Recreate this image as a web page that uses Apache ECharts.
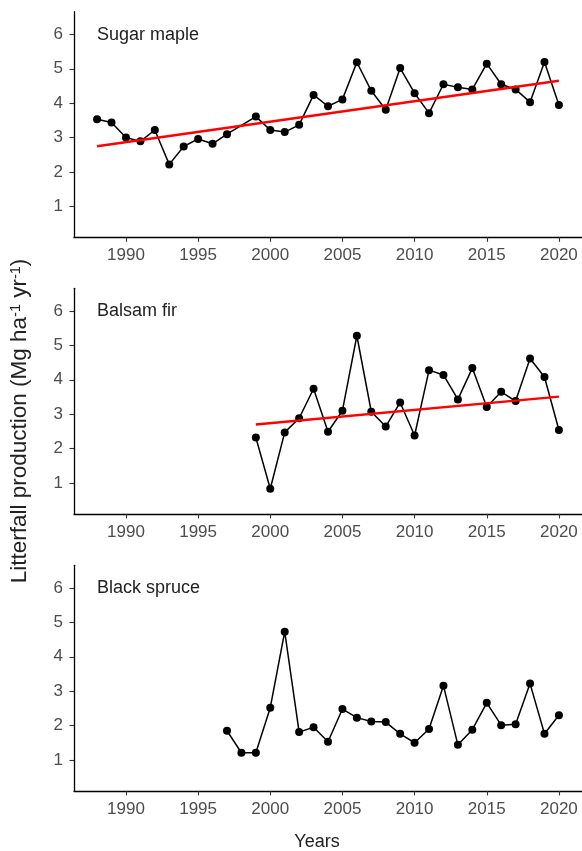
<!DOCTYPE html>
<html>
<head>
<meta charset="utf-8">
<script src="https://cdn.jsdelivr.net/npm/echarts@6/dist/echarts.min.js"></script>
<style>
html,body{margin:0;padding:0;background:#fff;}
#chart{width:582px;height:851px;}
</style>
</head>
<body>
<div id="chart"></div>
<script>
// ---- data ----
const xTicks = [1990, 1995, 2000, 2005, 2010, 2015, 2020];
const yTicks = [1, 2, 3, 4, 5, 6];
const panelNames = ['Sugar maple', 'Balsam fir', 'Black spruce'];

const mapleYears = [1988,1989,1990,1991,1992,1993,1994,1995,1996,1997,1999,2000,2001,2002,2003,2004,2005,2006,2007,2008,2009,2010,2011,2012,2013,2014,2015,2016,2017,2018,2019,2020];
const mapleValues = [3.53,3.44,3.00,2.89,3.22,2.22,2.74,2.96,2.82,3.10,3.61,3.22,3.16,3.37,4.24,3.91,4.11,5.19,4.36,3.81,5.02,4.29,3.71,4.55,4.46,4.40,5.15,4.55,4.40,4.03,5.20,3.95];
const mapleTrendYears = [1988, 2020];
const mapleTrendValues = [2.75, 4.65];

const firYears = [1999,2000,2001,2002,2003,2004,2005,2006,2007,2008,2009,2010,2011,2012,2013,2014,2015,2016,2017,2018,2019,2020];
const firValues = [2.32,0.83,2.47,2.88,3.74,2.49,3.10,5.28,3.07,2.64,3.34,2.38,4.28,4.14,3.43,4.34,3.21,3.65,3.38,4.62,4.08,2.54];
const firTrendYears = [1999, 2020];
const firTrendValues = [2.70, 3.51];

const spruceYears = [1997,1998,1999,2000,2001,2002,2003,2004,2005,2006,2007,2008,2009,2010,2011,2012,2013,2014,2015,2016,2017,2018,2019,2020];
const spruceValues = [1.85,1.21,1.21,2.52,4.73,1.81,1.95,1.53,2.48,2.23,2.12,2.10,1.76,1.50,1.90,3.16,1.44,1.88,2.66,2.01,2.04,3.22,1.76,2.30];

// ---- helpers ----
const pairs = (xs, ys) => xs.map((x, i) => [x, ys[i]]);
const FONT = 'Liberation Sans, Arial, sans-serif';
const grids = [
  {left: 74, width: 510, top: 11.7, height: 225.6},
  {left: 74, width: 510, top: 288.3, height: 225.6},
  {left: 74, width: 510, top: 565.3, height: 225.6}
];
const xAxes = grids.map((g, i) => ({
  type: 'value', gridIndex: i, min: 1986.4, max: 2021.6,
  axisLine: {show: true, lineStyle: {color: '#000', width: 1.3}},
  axisTick: {show: true, length: 4.5, customValues: xTicks, lineStyle: {color: '#333', width: 1.1}},
  axisLabel: {customValues: xTicks, margin: 10, color: '#4d4d4d', fontSize: 17, fontFamily: FONT,
    formatter: v => String(Math.round(v))},
  splitLine: {show: false}
}));
const yAxes = grids.map((g, i) => ({
  type: 'value', gridIndex: i, min: 0.1, max: 6.66,
  axisLine: {show: true, lineStyle: {color: '#000', width: 1.3}},
  axisTick: {show: true, length: 4.5, customValues: yTicks, lineStyle: {color: '#333', width: 1.1}},
  axisLabel: {customValues: yTicks, margin: 11, color: '#4d4d4d', fontSize: 17, fontFamily: FONT,
    formatter: v => String(Math.round(v))},
  splitLine: {show: false}
}));
function dataSeries(i, xs, ys) {
  return {type: 'line', xAxisIndex: i, yAxisIndex: i, data: pairs(xs, ys),
    symbol: 'circle', symbolSize: 8, showSymbol: true,
    itemStyle: {color: '#000'}, lineStyle: {color: '#000', width: 1.5},
    animation: false, z: 3};
}
function trendSeries(i, xs, ys) {
  return {type: 'line', xAxisIndex: i, yAxisIndex: i, data: pairs(xs, ys),
    symbol: 'none', lineStyle: {color: '#ff0000', width: 2.5}, animation: false, z: 4};
}
const labelYs = [35, 311.5, 588.5];
const graphics = panelNames.map((n, i) => ({
  type: 'text', x: 97, y: labelYs[i],
  style: {text: n, fill: '#222', font: '18px ' + FONT, textAlign: 'left', textVerticalAlign: 'middle'}
}));
graphics.push({
  type: 'text', x: 317, y: 842,
  style: {text: 'Years', fill: '#222', font: '18px ' + FONT, textAlign: 'center', textVerticalAlign: 'middle'}
});
graphics.push({
  type: 'text', x: 20, y: 421, rotation: Math.PI / 2,
  style: {
    text: '{a|Litterfall production (Mg ha}{s|-1}{a| yr}{s|-1}{a|)}',
    textAlign: 'center', textVerticalAlign: 'middle',
    rich: {
      a: {fontSize: 22.5, fontFamily: FONT, fill: '#222', color: '#222'},
      s: {fontSize: 14.5, fontFamily: FONT, fill: '#222', color: '#222', verticalAlign: 'top'}
    }
  }
});

const chart = echarts.init(document.getElementById('chart'));
chart.setOption({
  animation: false,
  backgroundColor: '#fff',
  grid: grids,
  xAxis: xAxes,
  yAxis: yAxes,
  series: [
    dataSeries(0, mapleYears, mapleValues),
    trendSeries(0, mapleTrendYears, mapleTrendValues),
    dataSeries(1, firYears, firValues),
    trendSeries(1, firTrendYears, firTrendValues),
    dataSeries(2, spruceYears, spruceValues)
  ],
  graphic: graphics
});
</script>
</body>
</html>
